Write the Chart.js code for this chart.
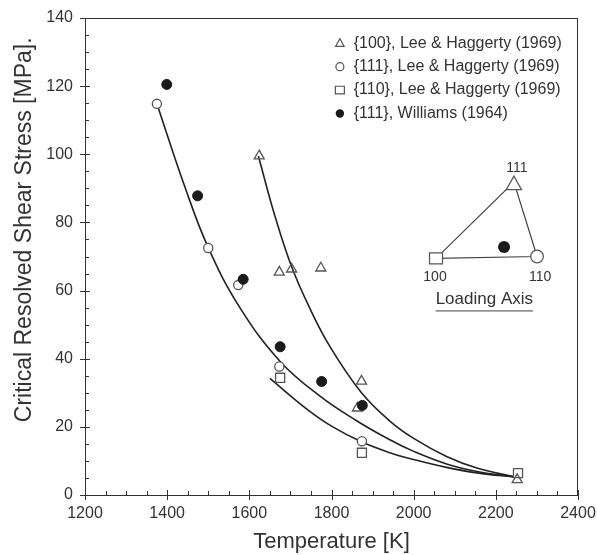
<!DOCTYPE html>
<html>
<head>
<meta charset="utf-8">
<script src="https://cdn.jsdelivr.net/npm/chart.js@4.4.1/dist/chart.umd.min.js"></script>
<style>
html,body{margin:0;padding:0;background:#fff;}
#wrap{width:597px;height:555px;position:relative;}
</style>
</head>
<body>
<div id="wrap"><canvas id="c" width="597" height="555"></canvas></div>
<script>
// ---- data ----
const xTicks = [1200, 1400, 1600, 1800, 2000, 2200, 2400];
const yTicks = [0, 20, 40, 60, 80, 100, 120, 140];

const legendLabels = [
  "{100}, Lee & Haggerty (1969)",
  "{111}, Lee & Haggerty (1969)",
  "{110}, Lee & Haggerty (1969)",
  "{111}, Williams (1964)"
];

const tri100Temp   = [1624, 1673, 1703, 1774, 1873, 1863, 2252];
const tri100Stress = [99.5, 65.4, 66.3, 66.6, 33.4, 25.5, 4.5];

const circ111Temp   = [1375, 1500, 1573, 1673, 1874];
const circ111Stress = [114.8, 72.5, 61.6, 37.7, 15.8];

const sq110Temp   = [1675, 1874, 2254];
const sq110Stress = [34.4, 12.4, 6.4];

const willTemp   = [1399, 1474, 1585, 1675, 1776, 1875];
const willStress = [120.5, 87.8, 63.3, 43.5, 33.3, 26.3];

// fitted curves
const fitATemp   = [1376, 1440, 1500, 1577, 1675, 1772, 1861, 1942, 2000, 2080, 2154, 2250];
const fitAStress = [114.5, 91.5, 72.6, 55.0, 39.2, 29.0, 21.8, 16.2, 12.8, 9.1, 6.9, 5.2];
const fitBTemp   = [1622, 1662, 1703, 1748, 1796, 1873, 1942, 2000, 2080, 2154, 2250];
const fitBStress = [99.5, 82.0, 67.0, 54.6, 43.6, 30.0, 21.7, 16.6, 11.3, 7.9, 5.2];
const fitCTemp   = [1650, 1740, 1800, 1873, 1942, 2000, 2080, 2154, 2250];
const fitCStress = [34.2, 25.2, 20.2, 15.6, 12.4, 10.4, 8.1, 6.5, 5.2];

const insetLabels = ["111", "100", "110"];
const insetTitle = "Loading Axis";

const yTitle = "Critical Resolved Shear Stress [MPa].";
const xTitle = "Temperature [K]";

// ---- build ----
const pts = (xs, ys) => xs.map((x, i) => ({x: x, y: ys[i]}));
const INK = '#333';
const MK = '#555';
const FONT = '"Liberation Sans", Arial, sans-serif';

const lineDs = (xs, ys) => ({
  type: 'line', data: pts(xs, ys), showLine: true, borderColor: '#222', borderWidth: 1.6,
  pointRadius: 0, fill: false, tension: 0.4, order: 2
});

const datasets = [
  lineDs(fitATemp, fitAStress),
  lineDs(fitBTemp, fitBStress),
  lineDs(fitCTemp, fitCStress),
  {type: 'scatter', data: pts(tri100Temp, tri100Stress), pointStyle: 'triangle', pointRadius: 5.8,
   borderColor: MK, backgroundColor: 'rgba(255,255,255,0)', borderWidth: 1.3, order: 1},
  {type: 'scatter', data: pts(circ111Temp, circ111Stress), pointStyle: 'circle', pointRadius: 4.6,
   borderColor: MK, backgroundColor: '#fff', borderWidth: 1.3, order: 1},
  {type: 'scatter', data: pts(sq110Temp, sq110Stress), pointStyle: 'rect', pointRadius: 6.4,
   borderColor: MK, backgroundColor: '#fff', borderWidth: 1.3, order: 1},
  {type: 'scatter', data: pts(willTemp, willStress), pointStyle: 'circle', pointRadius: 5,
   borderColor: '#1a1a1a', backgroundColor: '#1a1a1a', borderWidth: 1, order: 0}
];

function drawMarker(ctx, kind, x, y, s) {
  ctx.save();
  ctx.lineWidth = 1.2;
  ctx.strokeStyle = MK;
  ctx.beginPath();
  if (kind === 'tri') {
    ctx.moveTo(x, y - s);
    ctx.lineTo(x + s * 0.95, y + s * 0.7);
    ctx.lineTo(x - s * 0.95, y + s * 0.7);
    ctx.closePath();
    ctx.fillStyle = '#fff'; ctx.fill(); ctx.stroke();
  } else if (kind === 'circ') {
    ctx.arc(x, y, s, 0, Math.PI * 2);
    ctx.fillStyle = '#fff'; ctx.fill(); ctx.stroke();
  } else if (kind === 'sq') {
    ctx.rect(x - s, y - s * 0.85, 2 * s, 1.7 * s);
    ctx.fillStyle = '#fff'; ctx.fill(); ctx.stroke();
  } else {
    ctx.arc(x, y, s, 0, Math.PI * 2);
    ctx.fillStyle = '#1a1a1a'; ctx.fill();
  }
  ctx.restore();
}

const decor = {
  id: 'decor',
  beforeDatasetsDraw(chart) {
    const ctx = chart.ctx, a = chart.chartArea, xs = chart.scales.x, ys = chart.scales.y;
    ctx.save();
    ctx.strokeStyle = INK;
    ctx.lineWidth = 1;
    ctx.beginPath();
    // frame top & right
    ctx.moveTo(a.left, a.top + 0.5); ctx.lineTo(a.right, a.top + 0.5);
    ctx.moveTo(a.right - 0.5, a.top); ctx.lineTo(a.right - 0.5, a.bottom);
    // x ticks
    for (let v = xs.min; v <= xs.max; v += 50) {
      const p = Math.round(xs.getPixelForValue(v)) + 0.5;
      const major = (v % 200 === 0);
      ctx.moveTo(p, a.bottom + (major ? 5 : 0));
      ctx.lineTo(p, a.bottom - (major ? 5 : 4));
    }
    for (let v = ys.min; v <= ys.max; v += 5) {
      const p = Math.round(ys.getPixelForValue(v)) + 0.5;
      const major = (v % 20 === 0);
      ctx.moveTo(a.left - (major ? 5 : 0), p);
      ctx.lineTo(a.left + (major ? 5 : 4), p);
    }
    ctx.stroke();
    // y title
    ctx.fillStyle = INK;
    ctx.font = '23px ' + FONT;
    ctx.textAlign = 'center';
    ctx.textBaseline = 'middle';
    ctx.translate(25, a.top + (a.bottom - a.top) * 0.444);
    ctx.rotate(-Math.PI / 2);
    ctx.fillText(yTitle, 0, 0);
    ctx.restore();
  },
  afterDraw(chart) {
    const ctx = chart.ctx, a = chart.chartArea;
    const W = a.right - a.left, H = a.bottom - a.top;
    const X = f => a.left + f * W, Y = f => a.top + f * H;
    ctx.save();
    // legend
    const kinds = ['tri', 'circ', 'sq', 'fill'];
    const sizes = [4.5, 4, 4.5, 4.2];
    ctx.font = '16px ' + FONT;
    ctx.fillStyle = INK;
    ctx.textAlign = 'left';
    ctx.textBaseline = 'middle';
    legendLabels.forEach((t, i) => {
      const yy = Y(0.053) + i * 23.4;
      drawMarker(ctx, kinds[i], X(0.517), yy, sizes[i]);
      ctx.fillStyle = INK;
      ctx.fillText(t, X(0.545), yy);
    });
    // inset triangle
    const p100 = {x: X(0.712), y: Y(0.504)};
    const p110 = {x: X(0.917), y: Y(0.500)};
    const p111 = {x: X(0.870), y: Y(0.344)};
    ctx.strokeStyle = '#444';
    ctx.lineWidth = 1.2;
    ctx.beginPath();
    ctx.moveTo(p100.x, p100.y); ctx.lineTo(p111.x, p111.y);
    ctx.lineTo(p110.x, p110.y); ctx.lineTo(p100.x, p100.y);
    ctx.stroke();
    drawMarker(ctx, 'sq', p100.x, p100.y, 6.5);
    drawMarker(ctx, 'circ', p110.x, p110.y, 6.3);
    drawMarker(ctx, 'tri', p111.x, p111.y + 2, 8);
    drawMarker(ctx, 'fill', X(0.85), Y(0.48), 6);
    ctx.fillStyle = INK;
    ctx.font = '14px ' + FONT;
    ctx.textAlign = 'center';
    ctx.fillText(insetLabels[0], p111.x + 3, Y(0.315));
    ctx.fillText(insetLabels[1], p100.x - 1, Y(0.543));
    ctx.fillText(insetLabels[2], p110.x + 3, Y(0.543));
    ctx.font = '17px ' + FONT;
    const tx = X(0.81), ty = Y(0.59);
    ctx.fillText(insetTitle, tx, ty);
    const tw = ctx.measureText(insetTitle).width;
    ctx.strokeStyle = '#444';
    ctx.lineWidth = 1;
    ctx.beginPath();
    ctx.moveTo(tx - tw / 2, ty + 11.5); ctx.lineTo(tx + tw / 2, ty + 11.5);
    ctx.stroke();
    ctx.restore();
  }
};

new Chart(document.getElementById('c'), {
  data: {datasets: datasets},
  options: {
    responsive: false,
    animation: false,
    layout: {padding: {top: 18, right: 19, left: 0, bottom: 0}},
    plugins: {legend: {display: false}, tooltip: {enabled: false}},
    scales: {
      x: {
        type: 'linear', min: 1200, max: 2400,
        afterFit: s => { s.height = 60; s.paddingLeft = 0; s.paddingRight = 0; },
        afterBuildTicks: s => { s.ticks = xTicks.map(v => ({value: v})); },
        grid: {display: true, drawOnChartArea: false, drawTicks: false},
        border: {display: true, color: INK, width: 1},
        ticks: {color: INK, font: {size: 16, family: FONT}, padding: 9, maxRotation: 0, autoSkip: false,
                callback: v => String(v)},
        title: {display: true, text: xTitle, color: INK, font: {size: 22, family: FONT}, padding: {top: 2, bottom: 0}}
      },
      y: {
        type: 'linear', min: 0, max: 140,
        afterFit: s => { s.width = 85; s.paddingTop = 0; s.paddingBottom = 0; },
        afterBuildTicks: s => { s.ticks = yTicks.map(v => ({value: v})); },
        grid: {display: true, drawOnChartArea: false, drawTicks: false},
        border: {display: true, color: INK, width: 1},
        ticks: {color: INK, font: {size: 16, family: FONT}, padding: 12, autoSkip: false,
                callback: v => String(v)}
      }
    }
  },
  plugins: [decor]
});
</script>
</body>
</html>
